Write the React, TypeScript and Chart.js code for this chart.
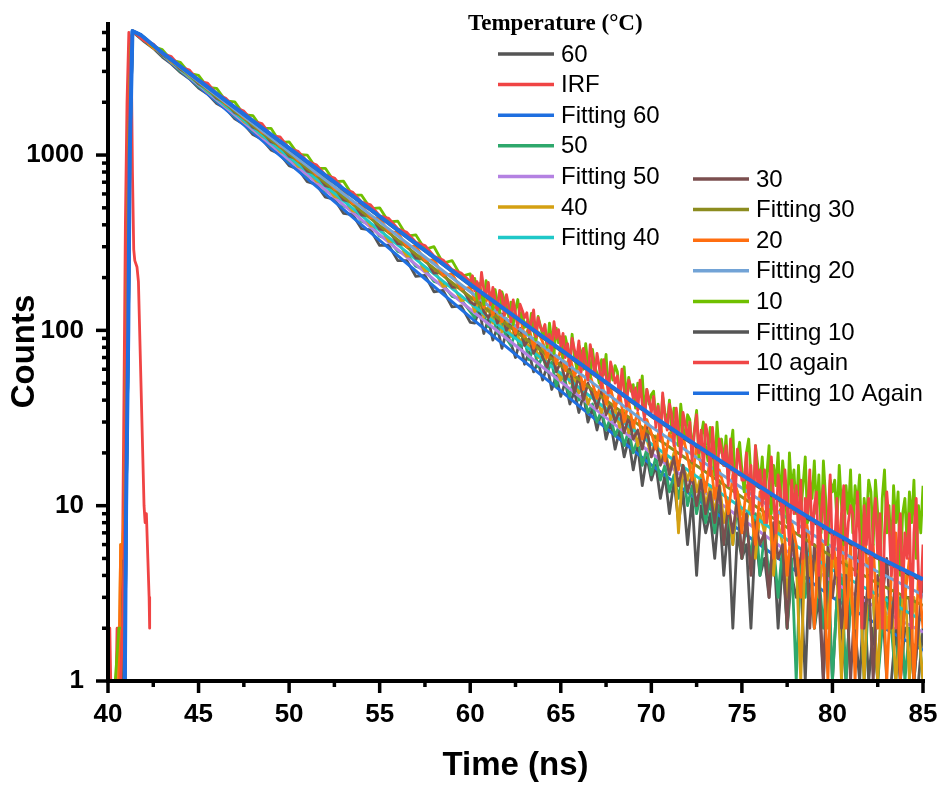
import React, { useEffect, useRef } from 'react';
import { Chart, registerables } from 'chart.js';

Chart.register(...registerables);

const SANS = 'Arial, "Liberation Sans", Helvetica, sans-serif';
const SERIF = '"Times New Roman", "Liberation Serif", serif';

// ---------------- axis ----------------
const X_MIN = 40;
const X_MAX = 85;
const Y_MIN = 1;
const Y_MAX = 5740;
const X_TICKS = [40, 45, 50, 55, 60, 65, 70, 75, 80, 85];
const Y_TICKS = [1, 10, 100, 1000];
const X_TITLE = 'Time (ns)';
const Y_TITLE = 'Counts';
const LEGEND_TITLE = 'Temperature (\u00B0C)';

// ---------------- time grids (ns) ----------------
const T_RISE = [40.0, 40.4, 40.6, 40.7, 40.8, 40.9, 41.0, 41.1, 41.2, 41.3, 41.4];
const T_EARLY = [41.5, 42, 42.5, 43, 43.5, 44, 44.5, 45, 45.5, 46, 46.5, 47, 47.5, 48, 48.5, 49, 49.5, 50, 50.5, 51, 51.5, 52, 52.5, 53, 53.5, 54, 54.5, 55, 55.5, 56, 56.5, 57, 57.5, 58, 58.5, 59, 59.5, 60];
const T_TAIL = [
  60.25, 60.5, 60.75, 61, 61.25, 61.5, 61.75, 62, 62.25, 62.5, 62.75, 63, 63.25, 63.5, 63.75, 64, 64.25, 64.5, 64.75, 65,
  65.25, 65.5, 65.75, 66, 66.25, 66.5, 66.75, 67, 67.25, 67.5, 67.75, 68, 68.25, 68.5, 68.75, 69, 69.25, 69.5, 69.75, 70,
  70.25, 70.5, 70.75, 71, 71.25, 71.5, 71.75, 72, 72.25, 72.5, 72.75, 73, 73.25, 73.5, 73.75, 74, 74.25, 74.5, 74.75, 75,
  75.25, 75.5, 75.75, 76, 76.25, 76.5, 76.75, 77, 77.25, 77.5, 77.75, 78, 78.25, 78.5, 78.75, 79, 79.25, 79.5, 79.75, 80,
  80.25, 80.5, 80.75, 81, 81.25, 81.5, 81.75, 82, 82.25, 82.5, 82.75, 83, 83.25, 83.5, 83.75, 84, 84.25, 84.5, 84.75, 85,
];
const T_FINE = [
  60.125, 60.25, 60.375, 60.5, 60.625, 60.75, 60.875, 61,
  61.125, 61.25, 61.375, 61.5, 61.625, 61.75, 61.875, 62,
  62.125, 62.25, 62.375, 62.5, 62.625, 62.75, 62.875, 63,
  63.125, 63.25, 63.375, 63.5, 63.625, 63.75, 63.875, 64,
  64.125, 64.25, 64.375, 64.5, 64.625, 64.75, 64.875, 65,
  65.125, 65.25, 65.375, 65.5, 65.625, 65.75, 65.875, 66,
  66.125, 66.25, 66.375, 66.5, 66.625, 66.75, 66.875, 67,
  67.125, 67.25, 67.375, 67.5, 67.625, 67.75, 67.875, 68,
  68.125, 68.25, 68.375, 68.5, 68.625, 68.75, 68.875, 69,
  69.125, 69.25, 69.375, 69.5, 69.625, 69.75, 69.875, 70,
  70.125, 70.25, 70.375, 70.5, 70.625, 70.75, 70.875, 71,
  71.125, 71.25, 71.375, 71.5, 71.625, 71.75, 71.875, 72,
  72.125, 72.25, 72.375, 72.5, 72.625, 72.75, 72.875, 73,
  73.125, 73.25, 73.375, 73.5, 73.625, 73.75, 73.875, 74,
  74.125, 74.25, 74.375, 74.5, 74.625, 74.75, 74.875, 75,
  75.125, 75.25, 75.375, 75.5, 75.625, 75.75, 75.875, 76,
  76.125, 76.25, 76.375, 76.5, 76.625, 76.75, 76.875, 77,
  77.125, 77.25, 77.375, 77.5, 77.625, 77.75, 77.875, 78,
  78.125, 78.25, 78.375, 78.5, 78.625, 78.75, 78.875, 79,
  79.125, 79.25, 79.375, 79.5, 79.625, 79.75, 79.875, 80,
  80.125, 80.25, 80.375, 80.5, 80.625, 80.75, 80.875, 81,
  81.125, 81.25, 81.375, 81.5, 81.625, 81.75, 81.875, 82,
  82.125, 82.25, 82.375, 82.5, 82.625, 82.75, 82.875, 83,
  83.125, 83.25, 83.375, 83.5, 83.625, 83.75, 83.875, 84,
  84.125, 84.25, 84.375, 84.5, 84.625, 84.75, 84.875, 85,
];
const T_DATA = [...T_RISE, ...T_EARLY, ...T_TAIL];
const T_DATA_FINE = [...T_RISE, ...T_EARLY, ...T_FINE];

// IRF time grid and counts
const T_IRF = [40.0, 40.05, 40.1, 40.15, 40.2, 40.45, 40.5, 40.6, 40.72, 40.8, 40.88, 40.96, 41.05, 41.15, 41.28, 41.35, 41.42, 41.48, 41.6, 41.68, 41.99, 42.05, 42.12, 42.2, 42.27, 42.3];
const IRF = [1, 2, 2, 1, 1, 1, 2, 2, 2, 5, 40, 400, 2000, 5000, 4000, 800, 290, 250, 230, 190, 10, 8, 9, 5, 3, 2];

// fit time grid
const T_FIT = [40.93, 41.0, 41.12, 41.2, 41.35, 41.8, 43, 45, 47.5, 50, 52.5, 55, 57.5, 60, 62.5, 65, 67.5, 70, 72.5, 75, 77.5, 80, 82.5, 85];

// ---------------- measured decays (counts) ----------------
const D60 = [
  1, 1, 1, 1, 1, 4, 40, 420, 2200, 4600, 5050,
  4900, 4440, 4060, 3620, 3310, 2960, 2720, 2410, 2230, 1970, 1840, 1610, 1500, 1310, 1230, 1070, 1010, 870, 830, 705, 680, 575, 560, 465, 458, 380, 374, 305, 306, 250, 250, 203, 206, 166, 169, 136, 138, 111,
  110, 132, 96, 115, 88, 104, 79, 98, 84, 70, 88, 64, 75, 58, 66, 52, 63, 46, 55, 42,
  51, 38, 45, 34, 43, 30, 36, 27, 35, 24, 30, 21, 27, 19, 24, 16, 22, 13, 19, 14,
  17, 11, 15, 9, 14, 8, 12, 6, 11, 4, 10, 7, 9, 5, 10, 4, 8, 2, 7, 5,
  6, 2, 7, 4, 5, 3, 6, 2, 5, 2, 4, 3, 4, 1, 5, 2, 3, 1, 4, 1,
  3, 2, 1, 3, 2, 1, 3, 1, 2, 1, 3, 1, 1, 2, 1, 2, 2, 1, 1, 2,
];
const D50 = [
  1, 1, 1, 1, 2, 5, 45, 450, 2300, 4650, 5000,
  4920, 4480, 4150, 3680, 3400, 3010, 2800, 2470, 2310, 2040, 1900, 1670, 1560, 1370, 1290, 1130, 1060, 925, 875, 760, 720, 625, 592, 512, 488, 420, 400, 345, 328, 282, 271, 232, 222, 190, 183, 156, 150, 128,
  118, 140, 122, 105, 120, 96, 110, 90, 82, 98, 79, 88, 68, 80, 62, 72, 58, 66, 48, 57,
  50, 42, 55, 40, 44, 34, 38, 30, 35, 27, 32, 25, 29, 22, 27, 20, 24, 17, 21, 15,
  19, 14, 17, 12, 15, 11, 16, 10, 13, 9, 12, 8, 11, 7, 12, 6, 9, 6, 10, 5,
  8, 5, 9, 4, 7, 4, 6, 3, 6, 2, 5, 1, 5, 3, 6, 2, 4, 2, 5, 1,
  3, 4, 1, 3, 2, 4, 1, 3, 3, 1, 2, 3, 2, 1, 3, 1, 2, 1, 2, 1,
];
const D40 = [
  1, 1, 1, 6, 6, 9, 60, 500, 2400, 4700, 5080,
  4960, 4520, 4080, 3790, 3370, 3120, 2770, 2580, 2290, 2140, 1890, 1770, 1550, 1460, 1280, 1210, 1050, 1000, 860, 830, 710, 690, 580, 565, 480, 470, 395, 390, 322, 322, 265, 268, 218, 222, 178, 184, 148, 152,
  128, 152, 119, 136, 110, 126, 98, 117, 92, 104, 85, 95, 78, 90, 70, 82, 63, 74, 60, 52,
  66, 50, 55, 44, 50, 38, 45, 40, 34, 42, 31, 36, 28, 35, 26, 30, 22, 28, 24, 19,
  25, 18, 21, 16, 20, 7, 17, 14, 18, 12, 15, 10, 13, 9, 14, 8, 11, 6, 12, 9,
  8, 11, 5, 9, 7, 10, 4, 8, 6, 3, 7, 5, 1, 6, 4, 5, 3, 6, 2, 5,
  4, 1, 5, 3, 2, 4, 1, 5, 3, 1, 4, 2, 3, 1, 2, 4, 1, 3, 2, 1,
];
const D30 = [
  1, 1, 1, 1, 3, 6, 50, 460, 2300, 4650, 5020,
  4930, 4500, 4180, 3720, 3470, 3080, 2880, 2550, 2390, 2110, 1990, 1750, 1650, 1440, 1370, 1190, 1140, 985, 945, 810, 785, 670, 650, 555, 540, 455, 450, 378, 372, 312, 308, 258, 256, 212, 214, 176, 177, 145,
  140, 160, 128, 118, 135, 110, 124, 100, 112, 94, 103, 82, 90, 74, 84, 70, 62, 76, 58, 66,
  52, 61, 44, 55, 40, 50, 43, 36, 45, 33, 38, 30, 35, 26, 32, 24, 27, 21, 28, 19,
  23, 17, 20, 15, 19, 13, 17, 12, 15, 10, 14, 9, 12, 8, 13, 6, 10, 7, 11, 5,
  9, 4, 8, 6, 7, 3, 8, 5, 6, 2, 7, 4, 5, 8, 2, 6, 4, 1, 6, 3,
  5, 2, 4, 1, 3, 6, 2, 4, 1, 4, 3, 5, 2, 4, 1, 3, 3, 1, 2, 4,
];
const D20 = [
  1, 1, 1, 6, 5, 10, 65, 520, 2450, 4750, 5100,
  4940, 4560, 4100, 3840, 3420, 3190, 2850, 2660, 2370, 2230, 1960, 1850, 1630, 1540, 1350, 1290, 1120, 1080, 930, 900, 770, 750, 640, 625, 530, 520, 440, 435, 365, 362, 300, 302, 250, 252, 206, 210, 172, 176,
  150, 174, 135, 158, 122, 146, 112, 130, 118, 96, 121, 92, 104, 79, 98, 86, 70, 88, 64, 78,
  59, 72, 55, 63, 46, 62, 50, 41, 52, 38, 47, 36, 44, 30, 39, 28, 34, 24, 31, 26,
  21, 30, 18, 26, 23, 16, 25, 19, 14, 22, 17, 12, 19, 11, 16, 13, 9, 15, 12, 7,
  13, 10, 6, 12, 8, 11, 5, 9, 10, 4, 8, 6, 3, 9, 6, 2, 8, 5, 1, 7,
  4, 9, 2, 6, 1, 5, 8, 3, 6, 2, 5, 1, 4, 7, 1, 3, 5, 1, 4, 2,
];
// 10 °C: rise + early on T_DATA_FINE, tail every 0.125 ns
const D10 = [
  1, 1, 2, 2, 2, 5, 45, 440, 2250, 4620, 5040,
  4980, 4700, 4150, 3990, 3480, 3380, 2920, 2850, 2430, 2400, 2040, 2010, 1700, 1680, 1420, 1420, 1180, 1190, 1010, 1000, 840, 840, 705, 710, 590, 590, 495, 500, 415, 420, 345, 350, 290, 300, 242, 250, 203, 210,
  176, 198, 150, 185, 162, 140, 192, 170,
  158, 132, 171, 145, 126, 166, 150, 138,
  120, 145, 108, 132, 150, 116, 128, 104,
  112, 95, 125, 101, 88, 120, 106, 94,
  98, 80, 110, 88, 74, 103, 85, 92,
  70, 92, 80, 66, 95, 72, 61, 82,
  75, 60, 84, 64, 54, 78, 62, 57,
  50, 68, 56, 73, 46, 60, 52, 63,
  58, 43, 51, 62, 40, 54, 45, 49,
  36, 50, 42, 55, 33, 46, 38, 43,
  45, 30, 38, 26, 42, 34, 29, 40,
  26, 36, 31, 22, 38, 28, 24, 33,
  31, 20, 27, 35, 19, 25, 30, 22,
  18, 28, 22, 15, 30, 20, 24, 17,
  25, 14, 21, 27, 13, 19, 23, 16,
  12, 20, 24, 15, 10, 22, 17, 13,
  19, 11, 15, 22, 9, 17, 13, 20,
  10, 18, 13, 8, 20, 12, 16, 9,
  17, 9, 13, 19, 8, 14, 11, 18,
  9, 15, 7, 18, 11, 6, 14, 12,
  14, 8, 17, 10, 6, 13, 9, 16,
  7, 13, 10, 15, 5, 11, 8, 14,
  12, 6, 14, 9, 4, 11, 16, 7,
  10, 5, 13, 8, 12, 4, 9, 11,
  6, 12, 8, 14, 5, 10, 7, 13,
];
// 10 °C again: rise + early on T_DATA_FINE, tail every 0.125 ns
const D10B = [
  1, 1, 1, 1, 2, 6, 55, 480, 2350, 4680, 5060,
  4950, 4480, 4300, 3790, 3640, 3180, 3050, 2640, 2570, 2230, 2110, 1870, 1780, 1560, 1510, 1290, 1270, 1090, 1050, 920, 880, 770, 740, 640, 615, 540, 520, 450, 435, 380, 362, 318, 305, 265, 252, 222, 212, 190,
  205, 168, 190, 152, 214, 171, 160, 188,
  140, 176, 150, 131, 169, 158, 122, 160,
  138, 112, 149, 125, 104, 141, 130, 118,
  126, 97, 112, 131, 92, 118, 104, 99,
  108, 84, 95, 77, 112, 90, 101, 81,
  96, 70, 84, 63, 90, 78, 68, 87,
  58, 79, 66, 52, 83, 70, 55, 74,
  62, 47, 68, 55, 44, 66, 58, 50,
  55, 40, 60, 45, 37, 52, 48, 41,
  47, 35, 52, 38, 31, 46, 40, 34,
  42, 28, 37, 24, 44, 32, 27, 38,
  33, 22, 36, 27, 19, 34, 29, 24,
  30, 18, 26, 33, 20, 27, 16, 29,
  25, 15, 28, 19, 13, 24, 21, 17,
  22, 13, 24, 16, 11, 21, 18, 14,
  14, 20, 11, 17, 9, 22, 13, 16,
  10, 16, 8, 13, 19, 11, 7, 15,
  12, 7, 16, 10, 6, 14, 9, 13,
  7, 14, 5, 11, 9, 16, 6, 10,
  12, 4, 9, 13, 6, 8, 15, 5,
  6, 11, 3, 9, 13, 5, 8, 10,
  9, 4, 12, 7, 2, 10, 6, 11,
  3, 8, 11, 5, 9, 2, 7, 12,
  8, 4, 10, 2, 6, 9, 3, 7,
  5, 9, 2, 7, 11, 4, 3, 6,
];

// ---------------- fitted curves (counts) ----------------
const F60 = [1, 10, 100, 1000, 5100, 4850, 3698, 2466, 1486, 897, 542, 326, 197, 119, 73, 45.2, 27.7, 17.1, 10.9, 7.1, 4.6, 3.0, 2.1, 1.5];
const F50 = [1, 10, 100, 1000, 5100, 4850, 3724, 2512, 1535, 940, 574, 351, 215, 132, 82, 51, 31.8, 19.9, 12.9, 8.4, 5.5, 3.7, 2.6, 1.9];
const F40 = [1, 10, 100, 1000, 5100, 4850, 3750, 2552, 1578, 975, 604, 372, 231, 143, 90, 56.8, 35.7, 22.5, 14.7, 9.7, 6.4, 4.3, 3.1, 2.2];
const F30 = [1, 10, 100, 1000, 5100, 4850, 3776, 2590, 1622, 1014, 634, 396, 248, 155, 98.9, 63, 40, 25.5, 16.9, 11.2, 7.5, 5.1, 3.6, 2.7];
const F20 = [1, 10, 100, 1000, 5100, 4850, 3800, 2624, 1656, 1045, 659, 416, 262, 166, 106, 68.5, 44, 28.2, 18.8, 12.6, 8.5, 5.8, 4.2, 3.1];
const F10 = [1, 10, 100, 1000, 5100, 4850, 3820, 2665, 1700, 1090, 695, 443, 283, 181, 118, 76.5, 49.8, 32.3, 21.7, 14.7, 10.0, 6.9, 5.0, 3.7];
const F10B = [1, 10, 100, 1000, 5100, 4850, 3830, 2675, 1710, 1095, 700, 447, 286, 183, 119, 77.6, 50.5, 32.8, 22.1, 15.0, 10.2, 7.1, 5.1, 3.8];

const LABELS = ['60', 'IRF', 'Fitting 60', '50', 'Fitting 50', '40', 'Fitting 40', '30', 'Fitting 30', '20', 'Fitting 20', '10', 'Fitting 10', '10 again', 'Fitting 10 Again'];
const COLORS = ['#555555', '#f04444', '#1f6fe0', '#2ea86c', '#b481e2', '#d4a012', '#1fc8c8', '#7b4f4f', '#8c8c1f', '#ff6e10', '#72a3d6', '#70c000', '#555555', '#f04646', '#1f6fe0'];

function pts(ts: number[], vs: number[]) {
  const out: { x: number; y: number }[] = [];
  for (let i = 0; i < vs.length && i < ts.length; i++) out.push({ x: ts[i], y: vs[i] });
  return out;
}

const SERIES_DATA = [
  pts(T_DATA, D60), pts(T_IRF, IRF), pts(T_FIT, F60),
  pts(T_DATA, D50), pts(T_FIT, F50),
  pts(T_DATA, D40), pts(T_FIT, F40),
  pts(T_DATA, D30), pts(T_FIT, F30),
  pts(T_DATA, D20), pts(T_FIT, F20),
  pts(T_DATA_FINE, D10), pts(T_FIT, F10),
  pts(T_DATA_FINE, D10B), pts(T_FIT, F10B),
];

const axisPlugin = {
  id: 'axisPlugin',
  afterDatasetsDraw(chart: any) {
    const { ctx, chartArea: a } = chart;
    const xs = chart.scales.x;
    const ys = chart.scales.y;
    ctx.save();
    ctx.strokeStyle = '#000';
    ctx.lineCap = 'butt';
    ctx.lineWidth = 3.5;
    for (const d of Y_TICKS) {
      for (let k = 1; k <= 9; k++) {
        const v = d * k;
        if (v > Y_MAX) break;
        const py = ys.getPixelForValue(v);
        const len = k === 1 ? 12 : 6;
        ctx.beginPath();
        ctx.moveTo(a.left - len, py);
        ctx.lineTo(a.left, py);
        ctx.stroke();
      }
    }
    for (const t of X_TICKS) {
      const px = xs.getPixelForValue(t);
      ctx.beginPath();
      ctx.moveTo(px, a.bottom);
      ctx.lineTo(px, a.bottom + 12);
      ctx.stroke();
      if (t + 2.5 < X_MAX) {
        const pm = xs.getPixelForValue(t + 2.5);
        ctx.beginPath();
        ctx.moveTo(pm, a.bottom);
        ctx.lineTo(pm, a.bottom + 6);
        ctx.stroke();
      }
    }
    ctx.lineWidth = 4;
    ctx.beginPath();
    ctx.moveTo(a.left, a.top);
    ctx.lineTo(a.left, a.bottom + 2);
    ctx.moveTo(a.left - 2, a.bottom);
    ctx.lineTo(a.right + 2, a.bottom);
    ctx.stroke();
    ctx.restore();
  },
};

const legendPlugin = {
  id: 'legendPlugin',
  afterDraw(chart: any) {
    const ctx = chart.ctx;
    ctx.save();
    ctx.fillStyle = '#000';
    ctx.textBaseline = 'middle';
    ctx.textAlign = 'left';
    ctx.font = `bold 23px ${SERIF}`;
    ctx.fillText(LEGEND_TITLE, 468, 24);
    ctx.font = `24px ${SANS}`;
    const cols = [
      { x0: 498, x1: 554, tx: 561, y0: 54, items: [0, 1, 2, 3, 4, 5, 6] },
      { x0: 693, x1: 749, tx: 756, y0: 179, items: [7, 8, 9, 10, 11, 12, 13, 14] },
    ];
    for (const c of cols) {
      c.items.forEach((idx, j) => {
        const y = c.y0 + j * 30.6;
        ctx.strokeStyle = COLORS[idx];
        ctx.lineWidth = 3.5;
        ctx.beginPath();
        ctx.moveTo(c.x0, y);
        ctx.lineTo(c.x1, y);
        ctx.stroke();
        ctx.fillStyle = '#000';
        ctx.fillText(LABELS[idx], c.tx, y + 1);
      });
    }
    ctx.restore();
  },
};

export default function App() {
  const ref = useRef<HTMLCanvasElement>(null);
  useEffect(() => {
    if (!ref.current) return;
    const datasets = LABELS.map((label, i) => ({
      label,
      data: SERIES_DATA[i],
      borderColor: COLORS[i],
      backgroundColor: COLORS[i],
      borderWidth: i === 14 ? 4 : label.startsWith('Fitting') ? 3 : 2.8,
      pointRadius: 0,
      tension: 0,
      fill: false,
      borderJoinStyle: 'round' as const,
      order: LABELS.length - i,
    }));
    const chart = new Chart(ref.current, {
      type: 'line',
      data: { datasets },
      plugins: [axisPlugin, legendPlugin],
      options: {
        animation: false,
        responsive: true,
        maintainAspectRatio: false,
        layout: { padding: { left: 0, top: 22, right: 20, bottom: 0 } },
        plugins: { legend: { display: false }, tooltip: { enabled: false } },
        scales: {
          x: {
            type: 'linear',
            min: X_MIN,
            max: X_MAX,
            grid: { display: false, drawTicks: false },
            border: { display: false },
            afterFit: (s: any) => { s.height = 105; s.paddingLeft = 0; s.paddingRight = 0; },
            ticks: {
              stepSize: 5,
              padding: 18,
              maxRotation: 0,
              color: '#000',
              font: { family: SANS, size: 26, weight: 'bold' },
              callback: (v: any) => (X_TICKS.includes(Number(v)) ? String(v) : ''),
            },
            title: { display: true, text: X_TITLE, color: '#000', padding: 0, font: { family: SANS, size: 33, weight: 'bold' } },
          },
          y: {
            type: 'logarithmic',
            min: Y_MIN,
            max: Y_MAX,
            grid: { display: false, drawTicks: false },
            border: { display: false },
            afterFit: (s: any) => { s.width = 108; s.paddingTop = 0; s.paddingBottom = 0; },
            ticks: {
              autoSkip: false,
              padding: 24,
              color: '#000',
              font: { family: SANS, size: 26, weight: 'bold' },
              callback: (v: any) => (Y_TICKS.includes(Number(v)) ? String(v) : ''),
            },
            title: { display: true, text: Y_TITLE, color: '#000', padding: { top: 5, bottom: 0 }, font: { family: SANS, size: 33, weight: 'bold' } },
          },
        },
      },
    } as any);
    return () => chart.destroy();
  }, []);
  return (
    <div style={{ position: 'absolute', left: 0, top: 0, width: 943, height: 786, background: '#fff' }}>
      <canvas ref={ref} />
    </div>
  );
}
